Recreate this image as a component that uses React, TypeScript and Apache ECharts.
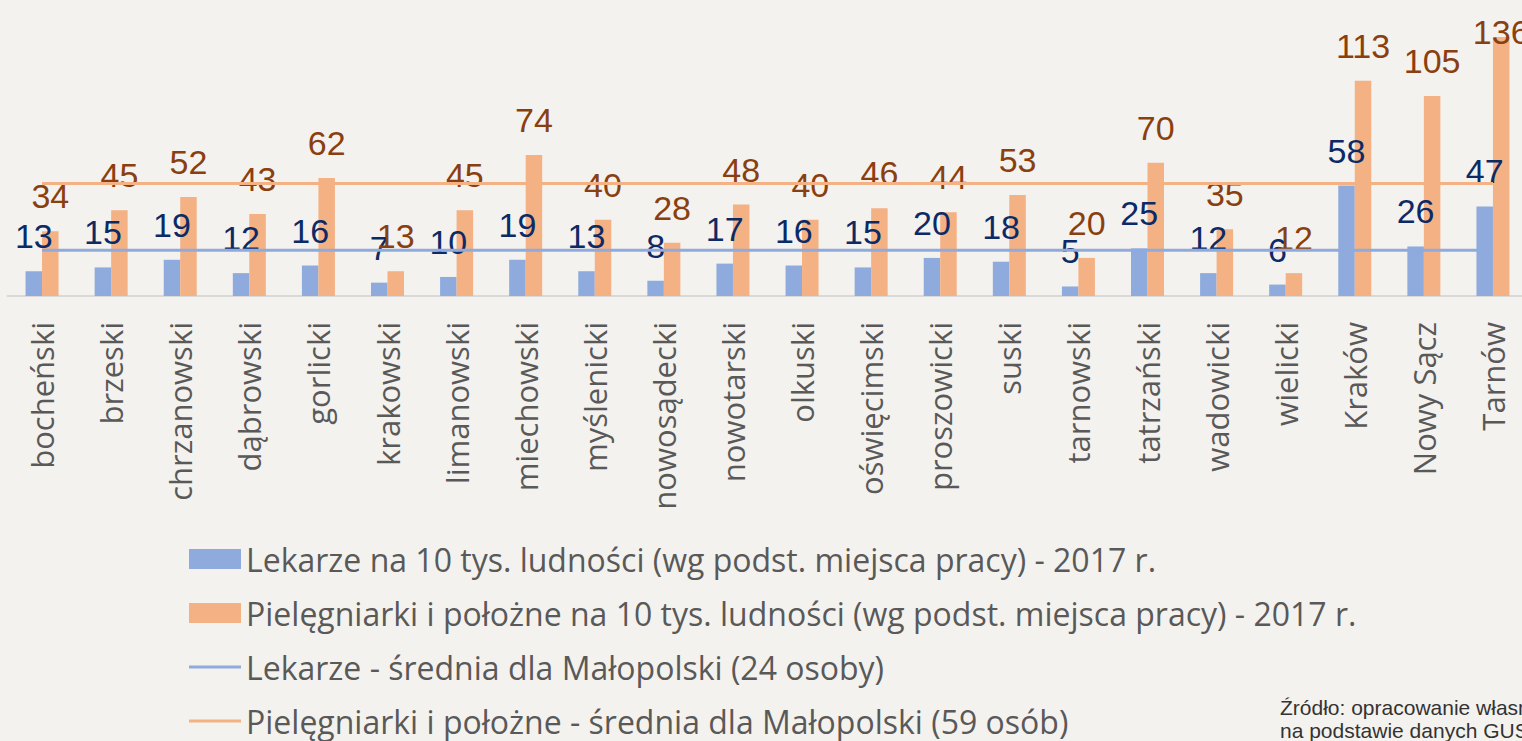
import React, { useEffect, useRef } from "react";
import * as echarts from "echarts";

const categories = [
  "bocheński", "brzeski", "chrzanowski", "dąbrowski", "gorlicki", "krakowski",
  "limanowski", "miechowski", "myślenicki", "nowosądecki", "nowotarski", "olkuski",
  "oświęcimski", "proszowicki", "suski", "tarnowski", "tatrzański", "wadowicki",
  "wielicki", "Kraków", "Nowy Sącz", "Tarnów",
];
const doctors = [13, 15, 19, 12, 16, 7, 10, 19, 13, 8, 17, 16, 15, 20, 18, 5, 25, 12, 6, 58, 26, 47];
const nurses = [34, 45, 52, 43, 62, 13, 45, 74, 40, 28, 48, 40, 46, 44, 53, 20, 70, 35, 12, 113, 105, 136];
const doctorsAvg = 24;
const nursesAvg = 59;
const seriesNames = [
  "Lekarze na 10 tys. ludności (wg podst. miejsca pracy) - 2017 r.",
  "Pielęgniarki i położne na 10 tys. ludności (wg podst. miejsca pracy) - 2017 r.",
  "Lekarze - średnia dla Małopolski (24 osoby)",
  "Pielęgniarki i położne - średnia dla Małopolski (59 osób)",
];
const sourceLines = ["Źródło: opracowanie własne", "na podstawie danych GUS"];

const BLUE = "#8faadc";
const ORANGE = "#f4b183";
const LINE_ICON = "path://M0 0H52V3H0Z";

export default function App() {
  const ref = useRef<HTMLDivElement>(null);
  useEffect(() => {
    document.body.style.margin = "0";
    const chart = echarts.init(ref.current!, null, { renderer: "svg" });
    const labelFont = "'Liberation Sans Narrow', 'Liberation Sans', Arial, sans-serif";
    const maxNurse = Math.max(...nurses);
    chart.setOption({
      animation: false,
      backgroundColor: "#f4f2ee",
      grid: {
        left: 7.5,
        top: 10.25,
        width: 1520,
        height: 285.75,
        containLabel: false,
        outerBoundsMode: "none",
      },
      xAxis: {
        type: "category",
        data: categories,
        axisTick: { show: false },
        axisLine: { lineStyle: { color: "#d9d9d9", width: 2 } },
        axisLabel: {
          rotate: 90,
          margin: 26,
          color: "#595959",
          fontSize: 31,
          fontFamily: "'Open Sans', sans-serif",
          interval: 0,
        },
      },
      yAxis: { type: "value", min: 0, max: 150, show: false, splitLine: { show: false } },
      legend: {
        orient: "vertical",
        left: 189,
        top: 543,
        height: 300,
        padding: 0,
        itemWidth: 52,
        itemHeight: 20,
        itemGap: 22,
        symbolKeepAspect: true,
        textStyle: { color: "#595959", fontSize: 32, lineHeight: 31, fontFamily: "'Open Sans', sans-serif" },
        data: [
          { name: seriesNames[0], icon: "rect" },
          { name: seriesNames[1], icon: "rect" },
          { name: seriesNames[2], icon: LINE_ICON },
          { name: seriesNames[3], icon: LINE_ICON },
        ],
      },
      series: [
        {
          name: seriesNames[0],
          type: "bar",
          data: doctors,
          barWidth: 16.5,
          barGap: "0%",
          itemStyle: { color: BLUE },
          label: {
            show: true,
            position: "top",
            distance: 18,
            color: "#0b2a66",
            fontSize: 34,
            fontFamily: labelFont,
          },
        },
        {
          name: seriesNames[1],
          type: "bar",
          data: nurses.map((v) => (v === maxNurse ? { value: v, label: { offset: [0, 30] } } : v)),
          barWidth: 16.5,
          itemStyle: { color: ORANGE },
          label: {
            show: true,
            position: "top",
            distance: 18,
            color: "#8a3f10",
            fontSize: 34,
            fontFamily: labelFont,
          },
        },
        {
          name: seriesNames[2],
          type: "line",
          data: categories.map(() => doctorsAvg),
          symbol: "none",
          lineStyle: { color: BLUE, width: 3 },
          itemStyle: { color: BLUE },
          z: 3,
        },
        {
          name: seriesNames[3],
          type: "line",
          data: categories.map(() => nursesAvg),
          symbol: "none",
          lineStyle: { color: ORANGE, width: 3 },
          itemStyle: { color: ORANGE },
          z: 3,
        },
      ],
      graphic: [
        {
          type: "text",
          left: 1280,
          top: 696,
          style: {
            text: sourceLines.join("\n"),
            fill: "#333333",
            fontSize: 21,
            lineHeight: 23,
            fontFamily: "'Liberation Sans', Arial, sans-serif",
          },
        },
      ],
    });
    return () => chart.dispose();
  }, []);
  return <div ref={ref} style={{ width: 1522, height: 741 }} />;
}
